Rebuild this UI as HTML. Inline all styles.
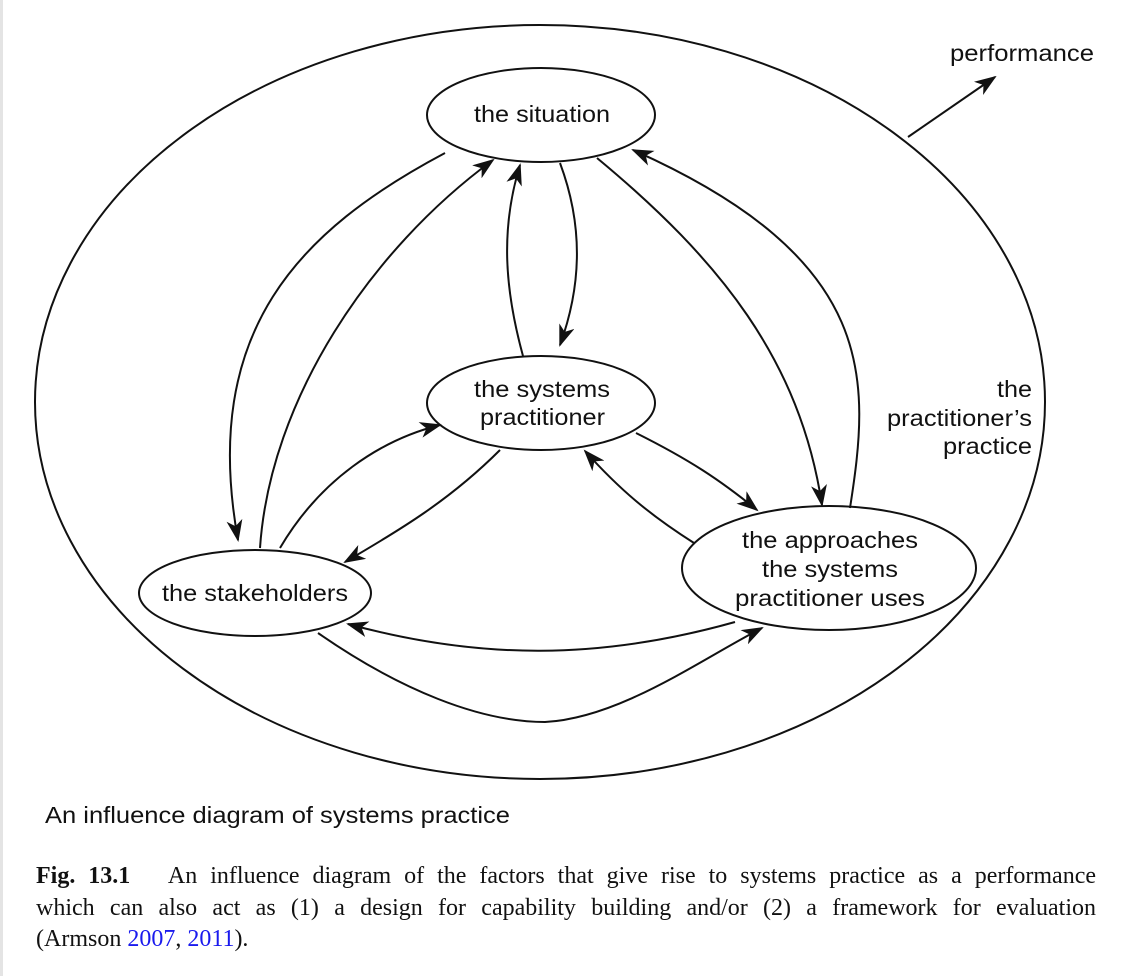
<!DOCTYPE html>
<html><head><meta charset="utf-8"><style>
html,body{margin:0;padding:0;background:#fff;}
body{width:1128px;height:976px;position:relative;overflow:hidden;}
.lb{position:absolute;left:0;top:0;width:3px;height:976px;background:#e4e4e4;}
svg{position:absolute;left:0;top:0;}
.cap{position:absolute;left:36px;width:1060px;font-family:"Liberation Serif",serif;font-size:24px;line-height:31.5px;color:#111;top:861px;}
.cap div{text-align:justify;text-align-last:justify;white-space:nowrap;}
.cap div.l{text-align-last:left;}
.cap a{color:#1a1aee;text-decoration:none;}
</style></head><body>
<div class="lb"></div>
<svg width="1128" height="976" viewBox="0 0 1128 976">
<defs><marker id="a" markerWidth="22" markerHeight="16" refX="20" refY="8" orient="auto" markerUnits="userSpaceOnUse"><path d="M0,0 L22,8 L0,16 L6,8 Z" fill="#111"/></marker></defs>
<g fill="none" stroke="#111" stroke-width="2">
<ellipse cx="540" cy="402" rx="505" ry="377"/>
<ellipse cx="541" cy="115" rx="114" ry="47"/>
<ellipse cx="541" cy="403" rx="114" ry="47"/>
<ellipse cx="255" cy="593" rx="116" ry="43"/>
<ellipse cx="829" cy="568" rx="147" ry="62"/>
<path d="M908,137 L995,77" marker-end="url(#a)"/>
<path d="M445,153 C300,230 200,330 238,540" marker-end="url(#a)"/>
<path d="M260,548 C270,400 370,250 493,160" marker-end="url(#a)"/>
<path d="M523,356 C505,290 500,230 520,165" marker-end="url(#a)"/>
<path d="M560,163 C585,230 580,290 560,345" marker-end="url(#a)"/>
<path d="M597,158 C720,260 800,360 822,505" marker-end="url(#a)"/>
<path d="M850,508 C870,380 880,260 633,150" marker-end="url(#a)"/>
<path d="M636,433 C690,460 720,480 757,510" marker-end="url(#a)"/>
<path d="M694,543 C650,515 620,490 585,451" marker-end="url(#a)"/>
<path d="M500,450 C450,500 400,530 345,562" marker-end="url(#a)"/>
<path d="M280,548 C320,480 380,440 440,425" marker-end="url(#a)"/>
<path d="M735,622 C600,660 480,660 348,624" marker-end="url(#a)"/>
<path d="M318,633 C400,690 480,722 545,722 C620,718 700,660 762,628" marker-end="url(#a)"/>
</g>
<g font-family="Liberation Sans, sans-serif" font-size="23" fill="#111">
<text x="474" y="122" textLength="136" lengthAdjust="spacingAndGlyphs">the situation</text>
<text x="474" y="397" textLength="136" lengthAdjust="spacingAndGlyphs">the systems</text>
<text x="480" y="425" textLength="125" lengthAdjust="spacingAndGlyphs">practitioner</text>
<text x="162" y="601" textLength="186" lengthAdjust="spacingAndGlyphs">the stakeholders</text>
<text x="742" y="548" textLength="176" lengthAdjust="spacingAndGlyphs">the approaches</text>
<text x="762" y="577" textLength="136" lengthAdjust="spacingAndGlyphs">the systems</text>
<text x="735" y="606" textLength="190" lengthAdjust="spacingAndGlyphs">practitioner uses</text>
<text x="950" y="61" textLength="144" lengthAdjust="spacingAndGlyphs">performance</text>
<text x="997" y="397" textLength="35" lengthAdjust="spacingAndGlyphs">the</text>
<text x="887" y="426" textLength="145" lengthAdjust="spacingAndGlyphs">practitioner’s</text>
<text x="943" y="454" textLength="89" lengthAdjust="spacingAndGlyphs">practice</text>
<text x="45" y="823" textLength="465" lengthAdjust="spacingAndGlyphs">An influence diagram of systems practice</text>
</g>
</svg>
<div class="cap"><div><b>Fig. 13.1</b>&nbsp;&nbsp; An influence diagram of the factors that give rise to systems practice as a performance</div><div>which can also act as (1) a design for capability building and/or (2) a framework for evaluation</div><div class="l">(Armson <a>2007</a>, <a>2011</a>).</div></div>
</body></html>
